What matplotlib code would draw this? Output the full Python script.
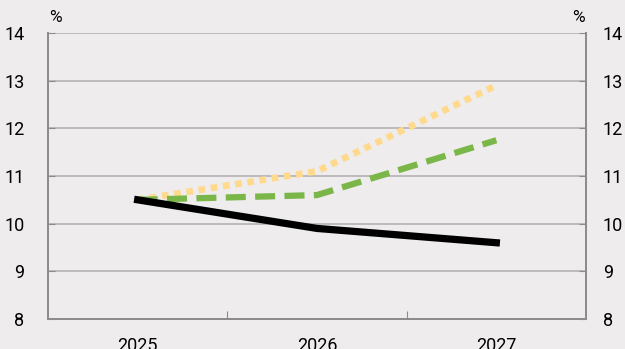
import numpy as np
import matplotlib.pyplot as plt

plt.rcParams['font.family'] = ['Roboto', 'DejaVu Sans']

years = ['2025', '2026', '2027']
baseline = [10.5, 9.9, 9.6]
adverse = [10.5, 10.6, 11.75]
severe = [10.5, 11.1, 12.9]
yticks = list(range(8, 15))

bg = '#eeeced'
grid_col = '#b4b2b3'
spine_col = '#8c8c8c'

fig = plt.figure(figsize=(6.25, 3.49), dpi=100, facecolor=bg)
ax = fig.add_axes([48 / 625, 1 - 319 / 349, 538 / 625, 286 / 349], facecolor=bg)

x = np.arange(len(years))
ax.plot(x, severe, color='#ffd98c', lw=4.8, ls=(0, (1.0, 0.85)), zorder=3)
ax.plot(x, adverse, color='#7ab648', lw=4.5, ls=(0, (3.2, 1.5)), zorder=4)
ax.plot(x, baseline, color='black', lw=5.2, zorder=5)

ax.set_xlim(-0.5, 2.5)
ax.set_ylim(8, 14)
ax.set_yticks(yticks)
ax.yaxis.grid(True, color=grid_col, lw=1.2)
ax.set_axisbelow(True)

# category boundaries get the tick marks, labels sit in between
ax.set_xticks([0.5, 1.5])
ax.set_xticks(x, minor=True)
ax.set_xticklabels(['', ''])
ax.set_xticklabels(years, minor=True)
ax.tick_params(axis='x', which='major', direction='in', length=6, color=spine_col)
ax.tick_params(axis='x', which='minor', length=0, pad=13, labelsize=13)
ax.tick_params(axis='y', direction='in', length=5, color=spine_col, labelsize=13, pad=17)

# mirrored scale on the right
ax2 = ax.twinx()
ax2.set_ylim(8, 14)
ax2.set_yticks(yticks)
ax2.tick_params(axis='y', direction='in', length=5, color=spine_col, labelsize=13, pad=12)

for a in (ax, ax2):
    for s in ['left', 'right', 'bottom']:
        a.spines[s].set_color(spine_col)
        a.spines[s].set_linewidth(1.3)
    a.spines['top'].set_visible(False)

fig.text(55 / 625, 1 - 18 / 349, '%', fontsize=12.5, ha='center', va='center')
fig.text(578 / 625, 1 - 18 / 349, '%', fontsize=12.5, ha='center', va='center')

fig.savefig('out.png', dpi=100, facecolor=bg)
